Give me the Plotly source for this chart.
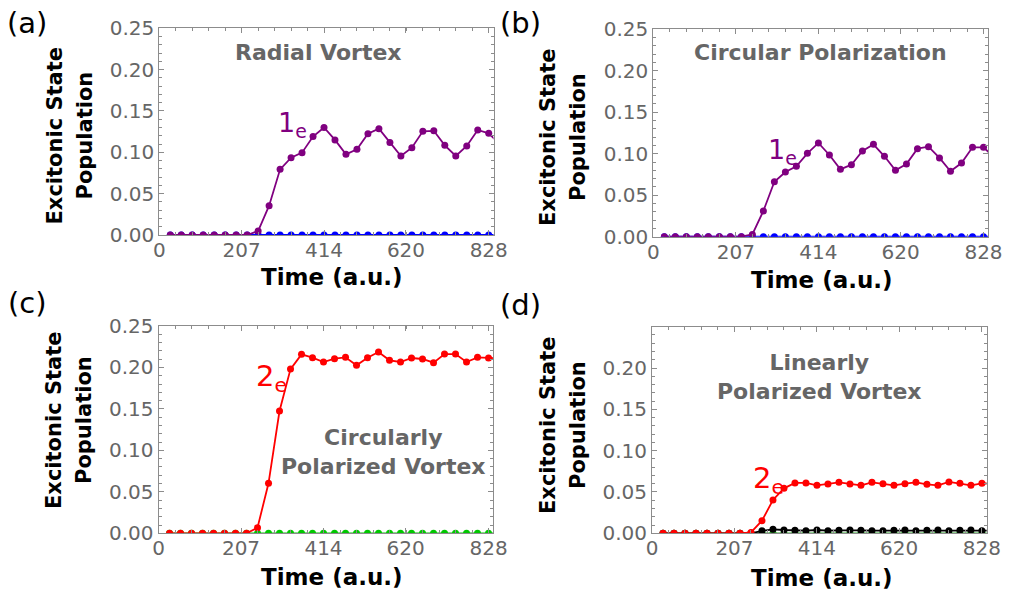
import plotly.graph_objects as go

W, H = 1009, 593

# ---------------- data ----------------
time_au = [27.6, 55.2, 82.8, 110.4, 138.0, 165.6, 193.2, 220.8, 248.4, 276.0,
           303.6, 331.2, 358.8, 386.4, 414.0, 441.6, 469.2, 496.8, 524.4, 552.0,
           579.6, 607.2, 634.8, 662.4, 690.0, 717.6, 745.2, 772.8, 800.4, 828.0,
           855.6]

radial_1e = [0, 0, 0, 0, 0, 0, 0, 0, 0.0048, 0.0355,
             0.0794, 0.0935, 0.0996, 0.119, 0.130, 0.115, 0.0976, 0.1036, 0.1226, 0.1286,
             0.112, 0.0956, 0.1056, 0.1254, 0.126, 0.1085, 0.0956, 0.1077, 0.127, 0.123,
             0.110]
radial_other = [0.0] * 31

circ_1e = [0, 0, 0, 0, 0, 0, 0, 0, 0.0028, 0.031,
           0.0663, 0.078, 0.0848, 0.1005, 0.113, 0.0985, 0.0812, 0.0868, 0.1033, 0.1113,
           0.0969, 0.080, 0.0876, 0.1061, 0.1085, 0.0949, 0.0788, 0.0888, 0.1077, 0.1077,
           0.095]
circ_other = [0.0] * 31

cpv_2e = [0, 0, 0, 0, 0, 0, 0, 0, 0.0068, 0.0603,
          0.1475, 0.198, 0.2158, 0.2118, 0.2066, 0.2106, 0.2122, 0.2026, 0.2118, 0.2186,
          0.2086, 0.2066, 0.2114, 0.2102, 0.2058, 0.2162, 0.2162, 0.2066, 0.2122, 0.2114,
          0.211]
cpv_other = [0.0] * 31

lpv_2e = [0, 0, 0, 0, 0, 0, 0, 0, 0.001, 0.0153,
          0.0403, 0.0544, 0.0609, 0.0609, 0.058, 0.0597, 0.0617, 0.0597, 0.058, 0.0617,
          0.0601, 0.058, 0.0601, 0.0617, 0.0593, 0.058, 0.0621, 0.0605, 0.058, 0.0605,
          0.060]
lpv_black = [0, 0, 0, 0, 0, 0, 0, 0, 0, 0.003,
             0.0048, 0.004, 0.0036, 0.0032, 0.004, 0.0032, 0.0036, 0.004, 0.0036, 0.0032,
             0.0032, 0.0036, 0.004, 0.0032, 0.0036, 0.004, 0.0032, 0.0036, 0.004, 0.0032,
             0.0032]
lpv_green = [0.0] * 31

x_ticks = [0, 207, 414, 620, 828]
y_ticks = [0.00, 0.05, 0.10, 0.15, 0.20, 0.25]
y_ticks_d = [0.00, 0.05, 0.10, 0.15, 0.20]

# ---------------- layout helpers ----------------
def px(x):
    return x / W

def py(y):
    return 1 - y / H

FONT = "DejaVu Sans"
FRAME = "#8c8c8c"
TICKC = "#666666"

panels = {
    "a": dict(x=(159.3, 493.5), y=(235.0, 28.3)),
    "b": dict(x=(653.3, 988.3), y=(236.7, 29.3)),
    "c": dict(x=(158.5, 493.3), y=(533.3, 326.0)),
    "d": dict(x=(652.0, 986.7), y=(533.3, 326.7)),
}

fig = go.Figure()

def add_series(idx, y, color):
    xa = "x" if idx == 1 else f"x{idx}"
    ya = "y" if idx == 1 else f"y{idx}"
    fig.add_trace(go.Scatter(
        x=time_au, y=y, mode="lines+markers", xaxis=xa, yaxis=ya,
        line=dict(color=color, width=1.8),
        marker=dict(color=color, size=7),
        showlegend=False, cliponaxis=True))

add_series(1, radial_other, "#0000ff")
add_series(1, radial_1e, "#800080")
add_series(2, circ_other, "#0000ff")
add_series(2, circ_1e, "#800080")
add_series(3, cpv_other, "#00c800")
add_series(3, cpv_2e, "#ff0000")
add_series(4, lpv_green, "#2ca02c")
add_series(4, lpv_black, "#000000")
add_series(4, lpv_2e, "#ff0000")

y_minor = [round(0.01 * i, 2) for i in range(26)]
x_minor = [41.4 * i for i in range(21)]

for i, key in enumerate(["a", "b", "c", "d"], start=1):
    p = panels[key]
    xname = "xaxis" if i == 1 else f"xaxis{i}"
    yname = "yaxis" if i == 1 else f"yaxis{i}"
    xa = "x" if i == 1 else f"x{i}"
    ya = "y" if i == 1 else f"y{i}"
    yt = y_ticks_d if key == "d" else y_ticks
    fig.update_layout(**{
        xname: dict(
            domain=[px(p["x"][0]), px(p["x"][1])], anchor=ya,
            range=[0, 840], showgrid=False, zeroline=False,
            showline=True, linecolor=FRAME, linewidth=1, mirror="ticks",
            tickmode="array", tickvals=x_ticks, ticktext=[str(v) for v in x_ticks],
            ticks="inside", ticklen=5, tickcolor=FRAME, tickwidth=1,
            tickfont=dict(family=FONT, size=20, color=TICKC),
            ticklabelstandoff=-3,
            minor=dict(tickvals=x_minor, ticks="inside", ticklen=3, tickcolor=FRAME),
        ),
        yname: dict(
            domain=[py(p["y"][0]), py(p["y"][1])], anchor=xa,
            range=[0, 0.25], showgrid=False, zeroline=False,
            showline=True, linecolor=FRAME, linewidth=1, mirror="ticks",
            tickmode="array", tickvals=yt, ticktext=[f"{v:.2f}" for v in yt],
            ticks="inside", ticklen=5, tickcolor=FRAME, tickwidth=1,
            tickfont=dict(family=FONT, size=20, color=TICKC),
            minor=dict(tickvals=y_minor, ticks="inside", ticklen=3, tickcolor=FRAME),
        ),
    })

ann = []

def text(x, y, s, size, color, bold=False, angle=0, xanchor="center", yanchor="middle"):
    ann.append(dict(
        x=px(x), y=py(y), xref="paper", yref="paper", text=s, showarrow=False,
        font=dict(family=FONT, size=size, color=color, weight="bold" if bold else "normal"),
        textangle=angle, xanchor=xanchor, yanchor=yanchor, align="center"))

# panel letters
text(27, 23, "(a)", 29, "#000000")
text(520, 23, "(b)", 29, "#000000")
text(27, 303, "(c)", 29, "#000000")
text(520, 305, "(d)", 29, "#000000")

# y titles (two lines as separate texts)
for cx1, cx2, cy in [(54, 84, 135.5), (548, 578, 137), (54, 84, 420), (548, 578, 425)]:
    text(cx1, cy, "Excitonic State", 21, "#000000", bold=True, angle=-90)
    text(cx2, cy, "Population", 21, "#000000", bold=True, angle=-90)

# x titles
for cx, cy in [(332, 277), (822, 280), (332, 577), (822, 578)]:
    text(cx, cy, "Time (a.u.)", 23, "#000000", bold=True)

# panel descriptions
GRAY = "#666666"
text(318, 52, "Radial Vortex", 22, GRAY, bold=True)
text(820, 52, "Circular Polarization", 22, GRAY, bold=True)
text(383, 452, "Circularly<br>Polarized Vortex", 22, GRAY, bold=True)
text(819, 377, "Linearly<br>Polarized Vortex", 22, GRAY, bold=True)

# state labels
text(276, 124, "1<sub>e</sub>", 27, "#800080", xanchor="left")
text(766, 152, "1<sub>e</sub>", 27, "#800080", xanchor="left")
text(254, 378, "2<sub>e</sub>", 29, "#ff0000", xanchor="left")
text(751, 480, "2<sub>e</sub>", 29, "#ff0000", xanchor="left")

fig.update_layout(
    width=W, height=H, margin=dict(l=0, r=0, t=0, b=0, autoexpand=False),
    paper_bgcolor="white", plot_bgcolor="white",
    annotations=ann, font=dict(family=FONT),
)

fig.write_html("out.html")
